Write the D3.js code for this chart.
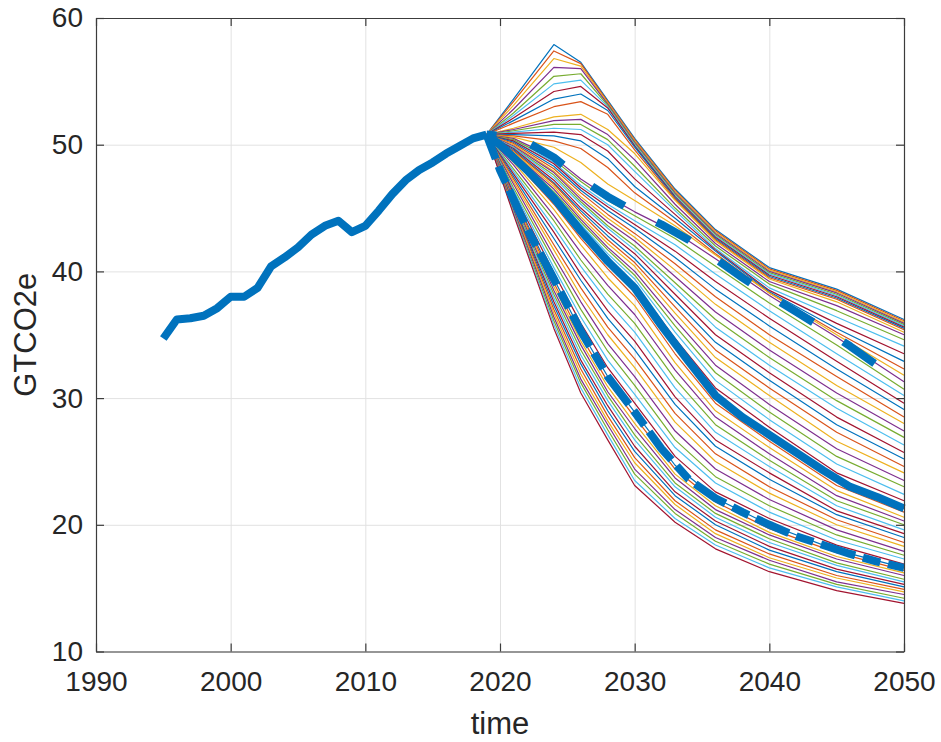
<!DOCTYPE html>
<html><head><meta charset="utf-8">
<script src="https://cdn.jsdelivr.net/npm/d3@7"></script>
<style>
body{margin:0;background:#fff}
svg{display:block}
text{font-family:"Liberation Sans",Arial,Helvetica,sans-serif;fill:#262626}
</style>
</head><body><svg id="c" width="941" height="742"></svg>
<script>
// ---- data ----
const xTicks = [1990, 2000, 2010, 2020, 2030, 2040, 2050];
const yTicks = [10, 20, 30, 40, 50, 60];
const xLabel = "time";
const yLabel = "GTCO2e";

const histYears  = [1995,1996,1997,1998,1999,2000,2001,2002,2003,2004,2005,2006,2007,2008,2009,2010,2011,2012,2013,2014,2015,2016,2017,2018,2019];
const histValues = [34.7,36.2,36.3,36.5,37.1,38.0,38.0,38.7,40.4,41.1,41.9,42.9,43.6,44.0,43.1,43.6,44.8,46.1,47.2,48.0,48.6,49.3,49.9,50.5,50.8];

const pathYears   = [2019,2020,2022,2024,2026,2028,2030,2032,2034,2036,2038,2040,2042,2044,2046,2048,2050];
const upperValues = [50.8,50.7,50.2,49.0,47.3,45.9,44.7,43.7,42.5,41.0,39.5,38.1,36.8,35.5,34.1,32.6,31.3];
const medianValues= [50.8,50.0,48.0,45.8,43.2,40.8,38.7,35.7,32.9,30.2,28.5,27.1,25.7,24.3,23.0,22.2,21.3];
const lowerValues = [50.8,48.0,43.4,39.4,35.3,31.7,28.9,26.0,23.6,22.1,21.0,20.0,19.1,18.4,17.7,17.1,16.6];

const scenarioYears = [2019,2021,2024,2026,2028,2030,2033,2036,2040,2045,2050];
const scenarios = [
  [50.8,53.6,57.9,56.5,53.5,50.5,46.5,43.3,40.3,38.6,36.2],
  [50.8,53.4,57.4,56.4,53.4,50.4,46.4,43.2,40.2,38.5,36.1],
  [50.8,53.1,56.8,56.2,53.3,50.3,46.3,43.1,40.1,38.4,36.0],
  [50.8,52.8,56.1,56.0,53.2,50.2,46.2,43.0,40.0,38.3,35.9],
  [50.8,52.5,55.4,55.6,53.1,50.1,46.1,42.9,39.9,38.2,35.8],
  [50.8,52.3,54.8,55.1,53.0,50.0,46.0,42.8,39.8,38.1,35.7],
  [50.8,52.1,54.2,54.6,52.9,49.9,45.9,42.7,39.7,38.0,35.6],
  [50.8,51.9,53.6,54.0,52.7,49.8,45.8,42.6,39.6,37.9,35.5],
  [50.8,51.7,53.0,53.4,52.4,49.6,45.7,42.5,39.5,37.8,35.4],
  [50.8,51.3,52.2,52.4,51.2,49.3,45.6,42.4,39.4,37.6,35.2],
  [50.8,51.2,51.9,52.0,50.8,48.8,45.3,42.2,39.2,37.3,35.0],
  [50.8,51.1,51.6,51.6,50.4,48.3,45.0,42.0,39.0,36.9,34.6],
  [50.8,51.0,51.3,51.2,50.0,47.9,44.8,41.8,38.7,36.4,34.1],
  [50.8,50.9,51.0,50.8,49.5,47.3,44.5,41.7,38.5,35.9,33.5],
  [50.8,50.8,50.7,50.3,48.9,46.7,44.2,41.6,38.4,35.5,32.9],
  [50.8,50.7,50.3,49.7,48.2,46.2,43.9,41.4,38.3,35.2,32.3],
  [50.8,50.6,49.8,48.6,46.9,45.6,43.6,41.3,38.3,35.0,31.8],
  [50.8,50.5,49.0,47.3,45.9,44.7,43.1,41.0,38.1,34.8,31.3],
  [50.8,50.4,48.8,47.1,45.6,44.4,42.6,40.4,37.5,34.2,30.7],
  [50.8,50.3,48.6,46.8,45.3,44.0,42.1,39.8,36.9,33.5,30.2],
  [50.8,50.3,48.5,46.6,45.1,43.7,41.6,39.2,36.3,32.9,29.6],
  [50.8,50.2,48.3,46.4,44.8,43.4,41.1,38.6,35.7,32.3,29.1],
  [50.8,50.1,48.1,46.2,44.5,43.0,40.6,38.0,35.0,31.7,28.5],
  [50.8,50.0,47.9,45.9,44.2,42.7,40.1,37.4,34.4,31.0,28.0],
  [50.8,49.9,47.8,45.7,43.9,42.4,39.6,36.8,33.8,30.4,27.4],
  [50.8,49.8,47.6,45.5,43.6,42.0,39.1,36.2,33.2,29.8,26.9],
  [50.8,49.8,47.4,45.3,43.4,41.7,38.7,35.6,32.6,29.2,26.3],
  [50.8,49.7,47.2,45.0,43.1,41.4,38.2,35.0,32.0,28.5,25.7],
  [50.8,49.6,47.0,44.8,42.8,41.0,37.7,34.4,31.4,27.9,25.2],
  [50.8,49.5,46.9,44.6,42.5,40.7,37.2,33.8,30.8,27.3,24.6],
  [50.8,49.4,46.7,44.3,42.2,40.4,36.7,33.2,30.2,26.6,24.1],
  [50.8,49.3,46.5,44.1,41.9,40.0,36.2,32.6,29.5,26.0,23.5],
  [50.8,49.3,46.3,43.9,41.7,39.7,35.7,32.0,28.9,25.4,23.0],
  [50.8,49.2,46.2,43.7,41.4,39.4,35.2,31.4,28.3,24.8,22.4],
  [50.8,49.1,46.0,43.4,41.1,39.0,34.7,30.8,27.7,24.1,21.9],
  [50.8,49.0,45.8,43.2,40.8,38.7,34.2,30.2,27.1,23.5,21.3],
  [50.8,48.8,45.3,42.6,40.2,38.0,33.5,29.6,26.6,23.1,21.0],
  [50.8,48.6,44.9,42.1,39.5,37.3,32.8,29.0,26.1,22.7,20.6],
  [50.8,48.4,44.4,41.5,38.9,36.6,32.2,28.5,25.6,22.3,20.3],
  [50.8,48.1,44.0,40.9,38.2,35.9,31.5,27.9,25.1,21.9,20.0],
  [50.8,47.9,43.5,40.4,37.6,35.2,30.8,27.3,24.6,21.5,19.6],
  [50.8,47.7,43.1,39.8,36.9,34.5,30.1,26.7,24.1,21.1,19.3],
  [50.8,47.5,42.6,39.3,36.3,33.8,29.5,26.2,23.6,20.8,19.0],
  [50.8,47.3,42.1,38.7,35.6,33.1,28.8,25.6,23.0,20.4,18.6],
  [50.8,47.1,41.7,38.1,35.0,32.4,28.1,25.0,22.5,20.0,18.3],
  [50.8,46.9,41.2,37.6,34.3,31.7,27.4,24.4,22.0,19.6,17.9],
  [50.8,46.6,40.8,37.0,33.7,31.0,26.7,23.8,21.5,19.2,17.6],
  [50.8,46.4,40.3,36.4,33.0,30.3,26.1,23.3,21.0,18.8,17.3],
  [50.8,46.2,39.9,35.9,32.4,29.6,25.4,22.6,20.5,18.4,16.9],
  [50.8,46.0,39.4,35.3,31.7,28.9,24.7,22.1,20.0,18.0,16.6],
  [50.8,45.9,39.1,34.9,31.3,28.5,24.4,21.8,19.7,17.8,16.4],
  [50.8,45.8,38.8,34.5,30.9,28.0,24.0,21.5,19.4,17.5,16.2],
  [50.8,45.7,38.5,34.2,30.5,27.6,23.7,21.2,19.2,17.3,16.0],
  [50.8,45.5,38.2,33.8,30.2,27.1,23.3,20.9,18.9,17.0,15.7],
  [50.8,45.4,37.9,33.4,29.8,26.7,23.0,20.6,18.6,16.8,15.5],
  [50.8,45.3,37.6,33.0,29.4,26.2,22.6,20.3,18.3,16.5,15.3],
  [50.8,45.2,37.3,32.7,29.0,25.8,22.3,20.0,18.0,16.3,15.1],
  [50.8,45.1,37.0,32.3,28.6,25.3,21.9,19.6,17.7,16.0,14.9],
  [50.8,45.0,36.7,31.9,28.2,24.9,21.6,19.3,17.4,15.8,14.7],
  [50.8,44.9,36.4,31.5,27.9,24.4,21.2,19.0,17.2,15.5,14.5],
  [50.8,44.7,36.1,31.2,27.5,24.0,20.9,18.7,16.9,15.3,14.2],
  [50.8,44.6,35.8,30.8,27.1,23.5,20.5,18.4,16.6,15.1,14.0],
  [50.8,44.5,35.5,30.4,26.7,23.1,20.2,18.1,16.3,14.8,13.8]
];

const lineColors = ["#0072BD","#D95319","#EDB120","#7E2F8E","#77AC30","#4DBEEE","#A2142F"];
const thickColor = "#0072BD";

// ---- chart ----
(function () {
const svg = d3.select("#c");
const mLeft = 96, mRight = 904, mTop = 18, mBottom = 651.5;
const x = d3.scaleLinear().domain([1990, 2050]).range([mLeft, mRight]);
const y = d3.scaleLinear().domain([10, 60]).range([mBottom, mTop]);
const axisColor = "#3c3c3c";

svg.append("rect").attr("width", 941).attr("height", 742).attr("fill", "#fff");

// grid
const gx = svg.append("g").attr("transform", `translate(0,${mBottom})`)
  .call(d3.axisBottom(x).tickValues(xTicks).tickSize(-(mBottom - mTop)).tickFormat(""));
gx.select(".domain").remove();
gx.selectAll("line").attr("stroke", "#e2e2e2").attr("stroke-width", 1);
const gy = svg.append("g").attr("transform", `translate(${mLeft},0)`)
  .call(d3.axisLeft(y).tickValues(yTicks).tickSize(-(mRight - mLeft)).tickFormat(""));
gy.select(".domain").remove();
gy.selectAll("line").attr("stroke", "#e2e2e2").attr("stroke-width", 1);

const line = d3.line().x(d => x(d[0])).y(d => y(d[1]));

// scenario fan
const fan = svg.append("g").attr("fill", "none").attr("stroke-width", 1.2).attr("stroke-linejoin", "round");
scenarios.forEach((vals, i) => {
  fan.append("path")
    .attr("d", line(scenarioYears.map((yr, j) => [yr, vals[j]])))
    .attr("stroke", lineColors[i % lineColors.length]);
});

// thick lines
const thick = svg.append("g").attr("fill", "none").attr("stroke", thickColor)
  .attr("stroke-width", 8).attr("stroke-linejoin", "round").attr("stroke-linecap", "butt");
thick.append("path").attr("d", line(pathYears.map((yr, j) => [yr, lowerValues[j]])))
  .attr("stroke-dasharray", "36,8,18,8").attr("stroke-dashoffset", 10);
thick.append("path").attr("d", line(pathYears.map((yr, j) => [yr, upperValues[j]])))
  .attr("stroke-dasharray", "38,36").attr("stroke-dashoffset", 28);
thick.append("path").attr("d", line(pathYears.map((yr, j) => [yr, medianValues[j]])));
thick.append("path").attr("d", line(histYears.map((yr, j) => [yr, histValues[j]])));

// axes (ticks inward on all four sides)
function styleAxis(g) {
  g.select(".domain").attr("stroke", axisColor).attr("stroke-width", 1.2);
  g.selectAll(".tick line").attr("stroke", axisColor).attr("stroke-width", 1.2);
  g.selectAll("text").attr("font-size", 28).attr("fill", "#262626")
    .attr("font-family", '"Liberation Sans",Arial,Helvetica,sans-serif');
}
const ax = svg.append("g").attr("transform", `translate(0,${mBottom})`)
  .call(d3.axisBottom(x).tickValues(xTicks).tickSize(-8).tickSizeOuter(0).tickPadding(20).tickFormat(d3.format("d")));
styleAxis(ax);
const axTop = svg.append("g").attr("transform", `translate(0,${mTop})`)
  .call(d3.axisTop(x).tickValues(xTicks).tickSize(-8).tickSizeOuter(0).tickFormat(""));
styleAxis(axTop);
const ay = svg.append("g").attr("transform", `translate(${mLeft},0)`)
  .call(d3.axisLeft(y).tickValues(yTicks).tickSize(-8).tickSizeOuter(0).tickPadding(13).tickFormat(d3.format("d")));
styleAxis(ay);
const ayR = svg.append("g").attr("transform", `translate(${mRight},0)`)
  .call(d3.axisRight(y).tickValues(yTicks).tickSize(-8).tickSizeOuter(0).tickFormat(""));
styleAxis(ayR);

// axis labels
svg.append("text").attr("x", (mLeft + mRight) / 2).attr("y", 734)
  .attr("text-anchor", "middle").attr("font-size", 31).text(xLabel);
svg.append("text").attr("transform", `translate(36,${(mTop + mBottom) / 2}) rotate(-90)`)
  .attr("text-anchor", "middle").attr("font-size", 31).text(yLabel);
})();
</script>
</body></html>
